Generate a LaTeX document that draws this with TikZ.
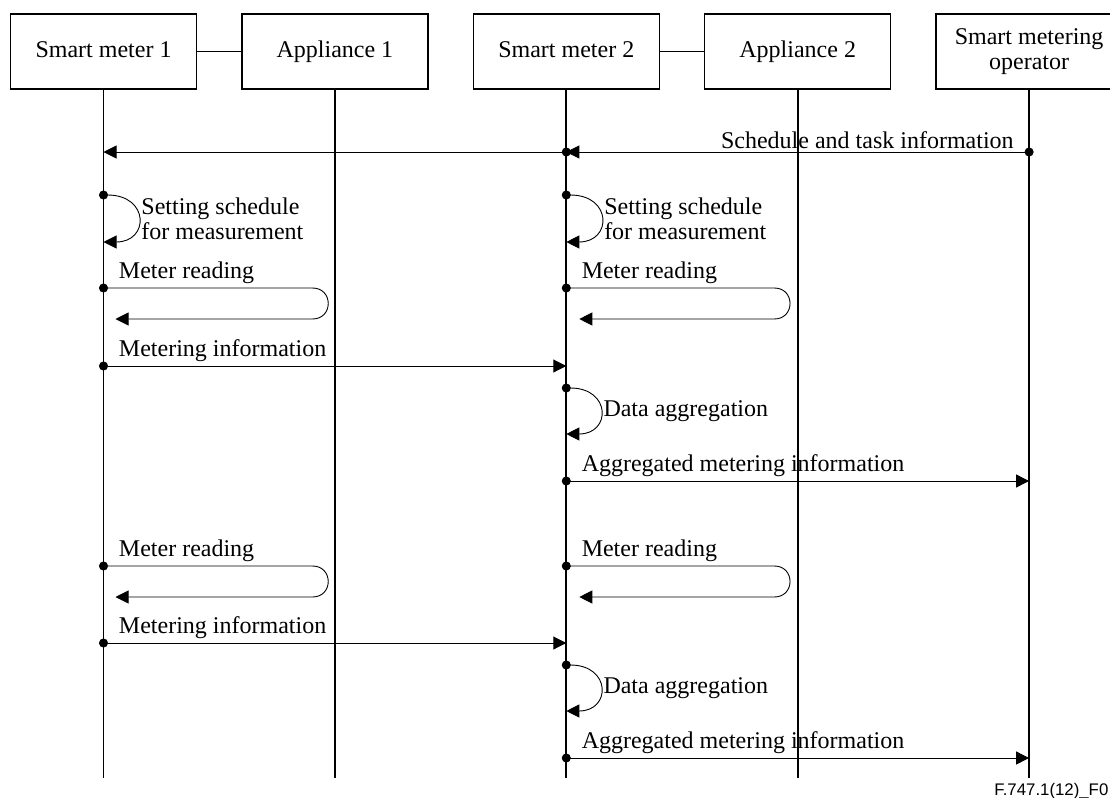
\documentclass[tikz,border=0pt]{standalone}
\usepackage{fontspec}
\setmainfont{Liberation Serif}
\newfontfamily\figfont{Liberation Sans}
\usetikzlibrary{positioning,arrows.meta}
\tikzset{c-box/.style={rectangle, minimum width=93pt, minimum height=37.5pt, text height=1.6ex, text depth=0.4ex, text centered, align=center, draw=black, line width=0.7pt, fill=white},
c-life/.style={line width=0.9pt},
msg/.style={line width=0.45pt, shorten <=-2.25pt, {Circle[length=4.5pt]}-{Triangle[length=6.5pt,width=6.5pt]}},
lbl/.style={anchor=base west, inner sep=0pt, xshift=7.5pt, yshift=4.75pt},
loop-lbl/.style={midway, anchor=west, inner sep=1.5pt, align=left}}

\begin{document}
\begin{tikzpicture}[x=0.5pt, y=-0.5pt, font=\fontsize{12pt}{12.5pt}\selectfont, node distance=22pt]
\useasboundingbox (0,0) rectangle (1110,798);
% actors
\node (sm1) [c-box] at (103.5,51.5) {Smart meter 1};
\node (app1) [c-box, right=of sm1] {Appliance 1};
\node (sm2) [c-box, right=of app1] {Smart meter 2};
\node (app2) [c-box, right=of sm2] {Appliance 2};
\node (op) [c-box, right=of app2, text height=, text depth=] {Smart metering\\operator};
\draw [line width=0.7pt] (sm1) -- (app1);
\draw [line width=0.7pt] (sm2) -- (app2);
% message rows
\foreach \n/\y in {sched/152, setA/195, setAe/242, readA/288, infoA/366, aggA/388, aggAe/434, sendA/481,
  readB/566, infoB/643, aggB/665, aggBe/711, sendB/758, bot/778}
  \coordinate (\n) at (0,\y);
% lifelines
\foreach \a in {sm1, app1, sm2, app2, op}
  \draw [c-life] (\a) -- (\a |- bot);
% schedule from operator
\draw [msg] (op |- sched) -- (sm2 |- sched) node[at start, anchor=base east, inner sep=0pt, xshift=-7.5pt, yshift=2pt] {Schedule and task information};
\draw [msg] (sm2 |- sched) -- (sm1 |- sched);
\draw [msg] (sm1 |- setA) .. controls +(46,0) and +(46,0) .. (sm1 |- setAe) node[loop-lbl] {Setting schedule\\for measurement};
\draw [msg] (sm2 |- setA) .. controls +(46,0) and +(46,0) .. (sm2 |- setAe) node[loop-lbl] {Setting schedule\\for measurement};
% first round
\draw [msg] (sm1 |- readA) node[lbl] {Meter reading} -- ++(209,0) .. controls +(21,0) and +(21,0) .. ++(0,31) -- ++(-197,0);
\draw [msg] (sm2 |- readA) node[lbl] {Meter reading} -- ++(208,0) .. controls +(21,0) and +(21,0) .. ++(0,31) -- ++(-195,0);
\draw [msg] (sm1 |- infoA) node[lbl] {Metering information} -- (sm2 |- infoA);
\draw [msg] (sm2 |- aggA) .. controls +(45,0) and +(45,0) .. (sm2 |- aggAe) node[loop-lbl] {Data aggregation};
\draw [msg] (sm2 |- sendA) node[lbl] {Aggregated metering information} -- (op |- sendA);
% second round
\draw [msg] (sm1 |- readB) node[lbl] {Meter reading} -- ++(209,0) .. controls +(21,0) and +(21,0) .. ++(0,31) -- ++(-197,0);
\draw [msg] (sm2 |- readB) node[lbl] {Meter reading} -- ++(208,0) .. controls +(21,0) and +(21,0) .. ++(0,31) -- ++(-195,0);
\draw [msg] (sm1 |- infoB) node[lbl] {Metering information} -- (sm2 |- infoB);
\draw [msg] (sm2 |- aggB) .. controls +(45,0) and +(45,0) .. (sm2 |- aggBe) node[loop-lbl] {Data aggregation};
\draw [msg] (sm2 |- sendB) node[lbl] {Aggregated metering information} -- (op |- sendB);
\node (fig) [anchor=base west, inner sep=0pt, font=\figfont\fontsize{8.4pt}{10pt}\selectfont] at (994,795) {F.747.1(12)\_F0};
\end{tikzpicture}
\end{document}
